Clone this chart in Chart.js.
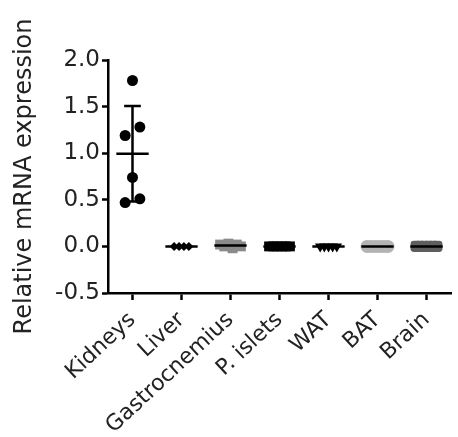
<!DOCTYPE html>
<html><head><meta charset="utf-8">
<script src="https://cdn.jsdelivr.net/npm/chart.js@4"></script>
<style>html,body{margin:0;padding:0;background:#fff;}#wrap{width:458px;height:437px;}</style>
</head><body><div id="wrap"><canvas id="c" width="458" height="437"></canvas></div>
<script>
// ---- data ----
const categories = ['Kidneys','Liver','Gastrocnemius','P. islets','WAT','BAT','Brain'];
const kidneys       = [1.78, 1.28, 1.19, 0.74, 0.51, 0.47];
const liver         = [0.0, 0.0, 0.0, 0.0];
const gastrocnemius = [0.02, 0.0, 0.03, -0.02, 0.02, 0.0];
const pIslets       = [0.0, 0.0, 0.0, 0.0, 0.0, 0.0];
const wat           = [0.0, 0.0, 0.0, 0.0, 0.0];
const bat           = [0.0, 0.0, 0.0, 0.0, 0.0, 0.0];
const brain         = [0.0, 0.0, 0.0, 0.0, 0.0, 0.0];
const yTicks = [-0.5, 0.0, 0.5, 1.0, 1.5, 2.0];

const groups = [kidneys, liver, gastrocnemius, pIslets, wat, bat, brain];

// ---- styles ----
const styles = [
  {color:'#000', shape:'circle',   r:5.5, rot:0},
  {color:'#000', shape:'rectRot',  r:4.5, rot:0},
  {color:'#8a8a8a', shape:'rect',  r:7,   rot:0},
  {color:'#000', shape:'rect',     r:7,   rot:0},
  {color:'#000', shape:'triangle', r:6,   rot:180},
  {color:'#b3b3b3', shape:'circle',r:6.5, rot:0},
  {color:'#5e5e5e', shape:'rectRounded', r:6.5, rot:0}
];
// scatter arrangement (layout only)
function spread(gi, j, n){
  if (gi === 0) { const pat=[0,1,-1,0,1,-1]; return pat[j % pat.length]*0.15; }
  const step = gi===1 ? 0.1 : 0.085;
  return (j - (n-1)/2) * step;
}
function mean(a){return a.reduce((s,v)=>s+v,0)/a.length;}
function sd(a){const m=mean(a);return Math.sqrt(a.reduce((s,v)=>s+(v-m)*(v-m),0)/(a.length-1));}

const datasets = [];
const lineData = [];
groups.forEach((g,i)=>{
  const m = mean(g), s = sd(g);
  lineData.push({x:i-0.33,y:m},{x:i+0.33,y:m},{x:i,y:null});
  if (s > 0.05) {
    lineData.push({x:i,y:m-s},{x:i,y:m+s},{x:i,y:null});
    lineData.push({x:i-0.17,y:m+s},{x:i+0.17,y:m+s},{x:i,y:null});
    lineData.push({x:i-0.17,y:m-s},{x:i+0.17,y:m-s},{x:i,y:null});
  }
});
datasets.push({type:'line', data:lineData, borderColor:'#000', borderWidth:2.5, pointRadius:0, spanGaps:false, order:0, borderCapStyle:'butt'});
groups.forEach((g,i)=>{
  const st = styles[i];
  datasets.push({
    type:'scatter', order:1,
    data: g.map((v,j)=>({x:i+spread(i,j,g.length), y:v})),
    pointStyle: st.shape, pointRotation: st.rot, pointRadius: st.r,
    backgroundColor: st.color, borderColor: st.color, borderWidth:0, pointHoverRadius: st.r
  });
});

const FONT = 'DejaVu Sans';
new Chart(document.getElementById('c'), {
  data:{datasets},
  options:{
    responsive:false, animation:false,
    layout:{padding:{left:0,right:0,top:60,bottom:0}},
    plugins:{legend:{display:false}, tooltip:{enabled:false}},
    scales:{
      x:{
        type:'linear', min:-0.5, max:6.5,
        afterBuildTicks:(ax)=>{ ax.ticks = categories.map((c,i)=>({value:i})); },
        afterFit:(s)=>{ s.height = 144; s.paddingLeft = 0; s.paddingRight = 0; },
        border:{display:true,color:'#000',width:2.5},
        grid:{display:true, drawOnChartArea:false, drawTicks:true, tickLength:7, tickWidth:2.5, tickColor:'#000', color:'#000'},
        ticks:{autoSkip:false, maxRotation:43, minRotation:43, padding:7, color:'#222',
          font:{family:FONT,size:22}, callback:(v)=>categories[Math.round(v)] }
      },
      y:{
        min:-0.5, max:2.0,
        afterBuildTicks:(ax)=>{ ax.ticks = yTicks.map(v=>({value:v})); },
        afterFit:(s)=>{ s.width = 108; s.paddingTop = 0; s.paddingBottom = 0; },
        border:{display:true,color:'#000',width:2.5},
        grid:{display:true, drawOnChartArea:false, drawTicks:true, tickLength:6, tickWidth:2.5, tickColor:'#000', color:'#000'},
        ticks:{padding:2, color:'#222', font:{family:FONT,size:23}, callback:(v)=>v.toFixed(1)},
        title:{display:true, text:'Relative mRNA expression', color:'#222', font:{family:FONT,size:24}, padding:{top:10,bottom:0}}
      }
    }
  }
});
</script></body></html>
